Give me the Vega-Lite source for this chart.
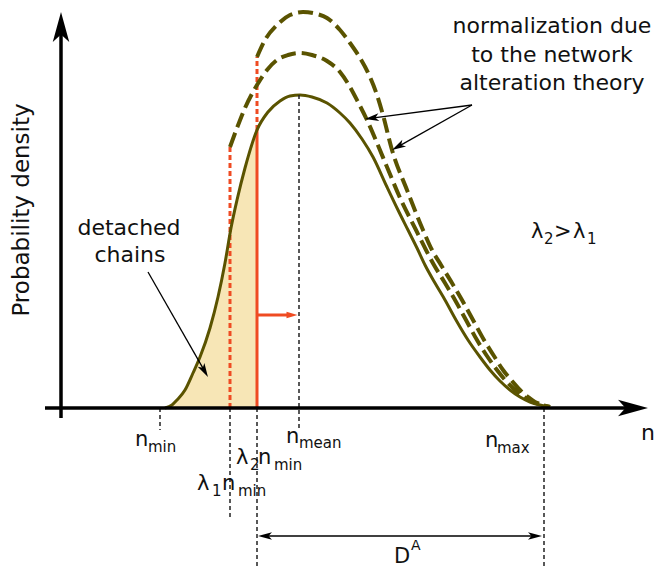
{
  "$schema": "https://vega.github.io/schema/vega-lite/v6.json",
  "width": 656,
  "height": 571,
  "autosize": {"type": "fit", "contains": "padding"},
  "padding": 0,
  "background": "white",
  "config": {"view": {"stroke": null}},
  "datasets": {
    "curves": [
      {"c":"s","n":165,"p":0},{"c":"s","n":172,"p":3},{"c":"s","n":177,"p":8},{"c":"s","n":185,"p":18},{"c":"s","n":193,"p":35},{"c":"s","n":200,"p":51},{"c":"s","n":210,"p":80},{"c":"s","n":218,"p":111},{"c":"s","n":225,"p":145},{"c":"s","n":231,"p":180},{"c":"s","n":237,"p":208},{"c":"s","n":245,"p":240},{"c":"s","n":257,"p":278},{"c":"s","n":268,"p":296},{"c":"s","n":280,"p":307},{"c":"s","n":290,"p":312},{"c":"s","n":300,"p":313},{"c":"s","n":312,"p":311},{"c":"s","n":327,"p":305},{"c":"s","n":340,"p":295},{"c":"s","n":350,"p":285},{"c":"s","n":362,"p":269},{"c":"s","n":373,"p":251},{"c":"s","n":387,"p":221},{"c":"s","n":398,"p":198},{"c":"s","n":408,"p":178},{"c":"s","n":417,"p":160},{"c":"s","n":425,"p":143},{"c":"s","n":435,"p":125},{"c":"s","n":445,"p":108},{"c":"s","n":456,"p":88},{"c":"s","n":468,"p":68},{"c":"s","n":480,"p":51},{"c":"s","n":490,"p":38},{"c":"s","n":500,"p":27},{"c":"s","n":510,"p":18},{"c":"s","n":520,"p":11},{"c":"s","n":530,"p":6},{"c":"s","n":540,"p":3},{"c":"s","n":550,"p":1},
      {"c":"m","n":230,"p":261},{"c":"m","n":237,"p":280},{"c":"m","n":245,"p":300},{"c":"m","n":257,"p":323},{"c":"m","n":267,"p":338},{"c":"m","n":277,"p":348},{"c":"m","n":288,"p":353},{"c":"m","n":300,"p":355},{"c":"m","n":312,"p":353},{"c":"m","n":327,"p":347},{"c":"m","n":340,"p":336},{"c":"m","n":350,"p":321},{"c":"m","n":358,"p":306},{"c":"m","n":367,"p":288},{"c":"m","n":377,"p":265},{"c":"m","n":387,"p":241},{"c":"m","n":401,"p":208},{"c":"m","n":416,"p":178},{"c":"m","n":426,"p":158},{"c":"m","n":434,"p":143},{"c":"m","n":445,"p":125},{"c":"m","n":455,"p":108},{"c":"m","n":466,"p":88},{"c":"m","n":477,"p":68},{"c":"m","n":487,"p":52},{"c":"m","n":497,"p":38},{"c":"m","n":506,"p":27},{"c":"m","n":515,"p":18},{"c":"m","n":524,"p":11},{"c":"m","n":533,"p":6},{"c":"m","n":542,"p":3},{"c":"m","n":550,"p":1},
      {"c":"t","n":257,"p":351},{"c":"t","n":265,"p":368},{"c":"t","n":277,"p":383},{"c":"t","n":290,"p":393},{"c":"t","n":303,"p":396},{"c":"t","n":317,"p":394},{"c":"t","n":327,"p":390},{"c":"t","n":340,"p":378},{"c":"t","n":350,"p":365},{"c":"t","n":360,"p":350},{"c":"t","n":370,"p":331},{"c":"t","n":377,"p":313},{"c":"t","n":383,"p":293},{"c":"t","n":392,"p":258},{"c":"t","n":407,"p":218},{"c":"t","n":423,"p":178},{"c":"t","n":432,"p":158},{"c":"t","n":441,"p":143},{"c":"t","n":452,"p":125},{"c":"t","n":462,"p":108},{"c":"t","n":473,"p":88},{"c":"t","n":484,"p":68},{"c":"t","n":494,"p":52},{"c":"t","n":503,"p":38},{"c":"t","n":512,"p":27},{"c":"t","n":520,"p":18},{"c":"t","n":528,"p":11},{"c":"t","n":535,"p":6},{"c":"t","n":543,"p":3},{"c":"t","n":550,"p":1}
    ],
    "rules": [
      {"k":"axis","n":61,"p":-10,"n2":61,"p2":385},
      {"k":"axis","n":45,"p":0,"n2":628,"p2":0},
      {"k":"guide","n":160,"p":0,"n2":160,"p2":-22},
      {"k":"guide","n":230,"p":0,"n2":230,"p2":-112},
      {"k":"guide","n":257,"p":0,"n2":257,"p2":-160},
      {"k":"guide","n":299,"p":313,"n2":299,"p2":-22},
      {"k":"guide","n":544,"p":0,"n2":544,"p2":-160},
      {"k":"reddash","n":230,"p":0,"n2":230,"p2":261},
      {"k":"reddash","n":257,"p":278,"n2":257,"p2":351},
      {"k":"redsolid","n":257,"p":0,"n2":257,"p2":278},
      {"k":"pointer","n":148,"p":136,"n2":204.5,"p2":37.1},
      {"k":"pointer","n":472,"p":303,"n2":371.9,"p2":289.9},
      {"k":"pointer","n":472,"p":303,"n2":398.1,"p2":261.4},
      {"k":"pointer","n":262,"p":-128,"n2":538,"p2":-128},
      {"k":"redpointer","n":258,"p":93,"n2":290,"p2":93}
    ],
    "heads": [
      {"k":"big","n":61,"p":381,"a":0},
      {"k":"big","n":633,"p":0,"a":90},
      {"k":"small","n":204.5,"p":37.1,"a":150.3},
      {"k":"small","n":371.9,"p":289.9,"a":262.5},
      {"k":"small","n":398.1,"p":261.4,"a":240.6},
      {"k":"small","n":265,"p":-128,"a":270},
      {"k":"small","n":535,"p":-128,"a":90},
      {"k":"red","n":292,"p":93,"a":90}
    ],
    "labels": [
      {"k":"big","n":129,"p":173,"t":"detached"},
      {"k":"big","n":130,"p":146,"t":"chains"},
      {"k":"big","n":552,"p":375,"t":"normalization due"},
      {"k":"big","n":552,"p":346,"t":"to the network"},
      {"k":"big","n":552,"p":318,"t":"alteration theory"},
      {"k":"ylab","n":29,"p":198,"t":"Probability density"},
      {"k":"bigleft","n":641,"p":-32,"t":"n"},
      {"k":"base","n":135,"p":-38,"t":"n"},
      {"k":"base","n":286,"p":-35,"t":"n"},
      {"k":"base","n":485,"p":-39,"t":"n"},
      {"k":"base","n":236,"p":-56,"t":"λ"},
      {"k":"base","n":258,"p":-56,"t":"n"},
      {"k":"base","n":197,"p":-82,"t":"λ"},
      {"k":"base","n":222,"p":-82,"t":"n"},
      {"k":"base","n":531,"p":170,"t":"λ"},
      {"k":"base","n":554,"p":170,"t":">"},
      {"k":"base","n":573,"p":170,"t":"λ"},
      {"k":"base","n":394,"p":-155,"t":"D"},
      {"k":"sub","n":148,"p":-44,"t":"min"},
      {"k":"sub","n":299,"p":-40,"t":"mean"},
      {"k":"sub","n":497,"p":-45,"t":"max"},
      {"k":"sub","n":250,"p":-62,"t":"2"},
      {"k":"sub","n":274,"p":-62,"t":"min"},
      {"k":"sub","n":212,"p":-88,"t":"1"},
      {"k":"sub","n":238,"p":-88,"t":"min"},
      {"k":"sub","n":544,"p":164,"t":"2"},
      {"k":"sub","n":587,"p":164,"t":"1"},
      {"k":"sup","n":411,"p":-142,"t":"A"}
    ]
  },
  "encoding": {
    "x": {"field": "n", "type": "quantitative", "scale": {"domain": [0, 656], "nice": false, "zero": false}, "axis": null},
    "y": {"field": "p", "type": "quantitative", "scale": {"domain": [-163, 408], "nice": false, "zero": false}, "axis": null}
  },
  "layer": [
    {
      "data": {"name": "curves"},
      "transform": [{"filter": "datum.c == 's' && datum.n <= 257"}],
      "mark": {"type": "area", "color": "#f7e6b6", "interpolate": "monotone"},
      "encoding": {"y2": {"datum": 0}}
    },
    {
      "data": {"name": "rules"},
      "transform": [{"filter": "datum.k == 'reddash'"}],
      "mark": {"type": "rule", "color": "#ef4b22", "strokeWidth": 3, "strokeDash": [5, 3]},
      "encoding": {"x2": {"field": "n2"}, "y2": {"field": "p2"}}
    },
    {
      "data": {"name": "rules"},
      "transform": [{"filter": "datum.k == 'redsolid' || datum.k == 'redpointer'"}],
      "mark": {"type": "rule", "color": "#ef4b22", "strokeWidth": 3},
      "encoding": {"x2": {"field": "n2"}, "y2": {"field": "p2"}}
    },
    {
      "data": {"name": "curves"},
      "transform": [{"filter": "datum.c == 's'"}],
      "mark": {"type": "line", "color": "#5a5300", "strokeWidth": 3, "interpolate": "monotone"},
      "encoding": {}
    },
    {
      "data": {"name": "curves"},
      "transform": [{"filter": "datum.c != 's'"}],
      "mark": {"type": "line", "color": "#5a5300", "strokeWidth": 4, "strokeDash": [15, 6], "interpolate": "monotone"},
      "encoding": {"detail": {"field": "c"}}
    },
    {
      "data": {"name": "rules"},
      "transform": [{"filter": "datum.k == 'guide'"}],
      "mark": {"type": "rule", "color": "#222222", "strokeWidth": 1.5, "strokeDash": [4, 3]},
      "encoding": {"x2": {"field": "n2"}, "y2": {"field": "p2"}}
    },
    {
      "data": {"name": "rules"},
      "transform": [{"filter": "datum.k == 'pointer'"}],
      "mark": {"type": "rule", "color": "#000000", "strokeWidth": 1.3},
      "encoding": {"x2": {"field": "n2"}, "y2": {"field": "p2"}}
    },
    {
      "data": {"name": "rules"},
      "transform": [{"filter": "datum.k == 'axis'"}],
      "mark": {"type": "rule", "color": "#000000", "strokeWidth": 3.5},
      "encoding": {"x2": {"field": "n2"}, "y2": {"field": "p2"}}
    },
    {
      "data": {"name": "heads"},
      "transform": [{"filter": "datum.k == 'big'"}],
      "mark": {"type": "point", "filled": true, "color": "#000000", "opacity": 1, "strokeWidth": 0, "size": 900, "shape": "M0,-1L0.55,1L0,0.5L-0.55,1Z"},
      "encoding": {"angle": {"field": "a", "type": "quantitative", "scale": null}}
    },
    {
      "data": {"name": "heads"},
      "transform": [{"filter": "datum.k == 'small'"}],
      "mark": {"type": "point", "filled": true, "color": "#000000", "opacity": 1, "strokeWidth": 0, "size": 196, "shape": "M0,-1L0.55,1L0,0.5L-0.55,1Z"},
      "encoding": {"angle": {"field": "a", "type": "quantitative", "scale": null}}
    },
    {
      "data": {"name": "heads"},
      "transform": [{"filter": "datum.k == 'red'"}],
      "mark": {"type": "point", "filled": true, "color": "#ef4b22", "opacity": 1, "strokeWidth": 0, "size": 120, "shape": "M0,-1L0.6,1L-0.6,1Z"},
      "encoding": {"angle": {"field": "a", "type": "quantitative", "scale": null}}
    },
    {
      "data": {"name": "labels"},
      "transform": [{"filter": "datum.k == 'big'"}],
      "mark": {"type": "text", "font": "DejaVu Sans", "fontSize": 22, "align": "center", "baseline": "alphabetic", "color": "#111111"},
      "encoding": {"text": {"field": "t"}}
    },
    {
      "data": {"name": "labels"},
      "transform": [{"filter": "datum.k == 'bigleft'"}],
      "mark": {"type": "text", "font": "DejaVu Sans", "fontSize": 22, "align": "left", "baseline": "alphabetic", "color": "#111111"},
      "encoding": {"text": {"field": "t"}}
    },
    {
      "data": {"name": "labels"},
      "transform": [{"filter": "datum.k == 'ylab'"}],
      "mark": {"type": "text", "font": "DejaVu Sans", "fontSize": 23, "align": "center", "baseline": "alphabetic", "angle": 270, "color": "#111111"},
      "encoding": {"text": {"field": "t"}}
    },
    {
      "data": {"name": "labels"},
      "transform": [{"filter": "datum.k == 'base'"}],
      "mark": {"type": "text", "font": "DejaVu Sans", "fontSize": 21, "align": "left", "baseline": "alphabetic", "color": "#111111"},
      "encoding": {"text": {"field": "t"}}
    },
    {
      "data": {"name": "labels"},
      "transform": [{"filter": "datum.k == 'sub'"}],
      "mark": {"type": "text", "font": "DejaVu Sans", "fontSize": 15, "align": "left", "baseline": "alphabetic", "color": "#111111"},
      "encoding": {"text": {"field": "t"}}
    },
    {
      "data": {"name": "labels"},
      "transform": [{"filter": "datum.k == 'sup'"}],
      "mark": {"type": "text", "font": "DejaVu Sans", "fontSize": 14, "align": "left", "baseline": "alphabetic", "color": "#111111"},
      "encoding": {"text": {"field": "t"}}
    }
  ]
}
